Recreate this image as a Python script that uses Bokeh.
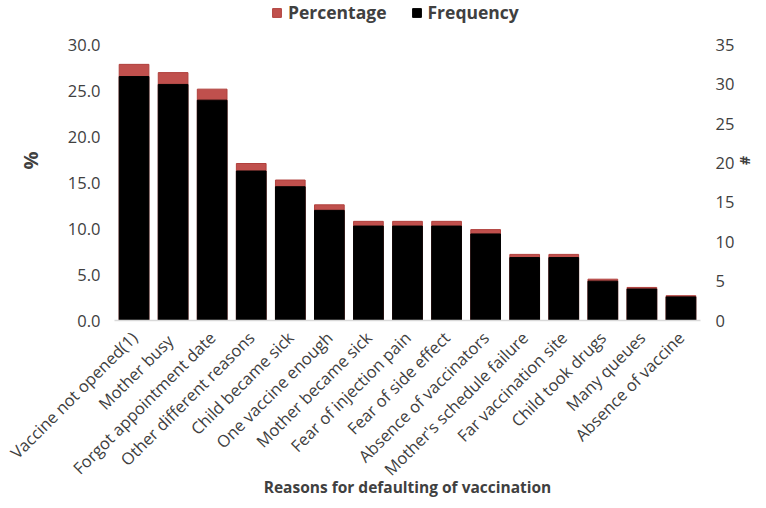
import math
from bokeh.plotting import figure
from bokeh.models import (ColumnDataSource, Range1d, LinearAxis, FixedTicker,
                          Legend, LegendItem, NumeralTickFormatter, FactorRange)
from bokeh.embed import file_html
from bokeh.resources import INLINE

reasons = ["Vaccine not opened(1)", "Mother  busy", "Forgot appointment date",
           "Other different reasons", "Child became sick", "One vaccine enough",
           "Mother became sick", "Fear of injection pain", "Fear of side effect",
           "Absence of vaccinators", "Mother's schedule failure", "Far vaccination site",
           "Child took drugs", "Many queues", "Absence of vaccine"]
frequency = [31, 30, 28, 19, 17, 14, 12, 12, 12, 11, 8, 8, 5, 4, 3]
percentage = [27.9, 27.0, 25.2, 17.1, 15.3, 12.6, 10.8, 10.8, 10.8, 9.9, 7.2, 7.2, 4.5, 3.6, 2.7]
pct_ticks = [0, 5, 10, 15, 20, 25, 30]
freq_ticks = [0, 5, 10, 15, 20, 25, 30, 35]

FONT = "Open Sans"
TXT = "#404040"

# layout: the axes span 278 px; the frame is taller so the legend sits above the bars
FRAME_H = 323
AXIS_H = 278
pct_top = pct_ticks[-1] * FRAME_H / AXIS_H
freq_top = freq_ticks[-1] * FRAME_H / AXIS_H

src = ColumnDataSource(dict(reason=reasons, freq=frequency, pct=percentage))

p = figure(width=758, height=500, x_range=FactorRange(*reasons, range_padding=0),
           y_range=Range1d(0, pct_top), output_backend="svg", toolbar_location=None,
           min_border_left=114, min_border_right=52, min_border_top=0, min_border_bottom=177)
p.extra_y_ranges = {"freq": Range1d(0, freq_top)}
p.outline_line_color = None
p.grid.grid_line_color = None

r_pct = p.vbar(x="reason", top="pct", width=0.76, source=src,
               fill_color="#C0504D", line_color="#B0403D", line_width=1)
r_freq = p.vbar(x="reason", top="freq", width=0.76, source=src, y_range_name="freq",
                fill_color="black", line_color="black", line_width=1)

# left axis
ya = p.yaxis[0]
ya.ticker = FixedTicker(ticks=pct_ticks)
ya.formatter = NumeralTickFormatter(format="0.0")
ya.axis_line_color = None
ya.major_tick_line_color = None
ya.minor_tick_line_color = None
ya.major_tick_out = 0
ya.major_tick_in = 0
ya.major_label_standoff = 14
ya.major_label_text_font = FONT
ya.major_label_text_font_size = "16.5px"
ya.major_label_text_color = TXT
ya.axis_label = "%"
ya.axis_label_text_font = FONT
ya.axis_label_text_font_size = "20px"
ya.axis_label_text_font_style = "bold"
ya.axis_label_text_color = TXT
ya.axis_label_standoff = 21

ra = LinearAxis(y_range_name="freq", ticker=FixedTicker(ticks=freq_ticks))
ra.axis_line_color = None
ra.major_tick_line_color = None
ra.minor_tick_line_color = None
ra.major_tick_out = 0
ra.major_tick_in = 0
ra.major_label_standoff = 15
ra.major_label_text_font = FONT
ra.major_label_text_font_size = "16.5px"
ra.major_label_text_color = TXT
ra.axis_label = "#"
ra.axis_label_text_font = FONT
ra.axis_label_text_font_size = "14px"
ra.axis_label_text_font_style = "bold"
ra.axis_label_text_color = TXT
ra.axis_label_standoff = -1
p.add_layout(ra, "right")

xa = p.xaxis[0]
xa.axis_line_color = "#D9D9D9"
xa.axis_line_width = 1.5
xa.major_tick_line_color = None
xa.minor_tick_line_color = None
xa.major_tick_out = 0
xa.major_tick_in = 0
xa.major_label_orientation = math.pi / 4
xa.major_label_standoff = 14
xa.major_label_text_font = FONT
xa.major_label_text_font_size = "16.5px"
xa.major_label_text_color = TXT
xa.axis_label = "Reasons for defaulting of vaccination"
xa.axis_label_text_font = FONT
xa.axis_label_text_font_size = "15.5px"
xa.axis_label_text_font_style = "bold"
xa.axis_label_text_color = TXT
xa.axis_label_standoff = -16

legend = Legend(items=[LegendItem(label="Percentage", renderers=[r_pct]),
                       LegendItem(label="Frequency", renderers=[r_freq])],
                orientation="horizontal", location=(157, 296),
                glyph_width=11, glyph_height=11, label_standoff=6, spacing=24,
                padding=0, margin=0, border_line_color=None, background_fill_alpha=0,
                label_text_font=FONT, label_text_font_size="17.5px",
                label_text_font_style="bold", label_text_color=TXT)
p.add_layout(legend)

open("out.html", "w").write(file_html(p, INLINE))
